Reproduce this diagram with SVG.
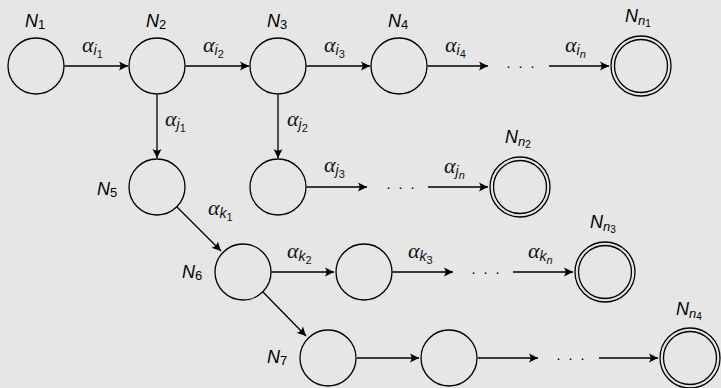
<svg xmlns="http://www.w3.org/2000/svg" width="721" height="388" viewBox="0 0 721 388">
<style>
.st{fill:none;stroke:#000;stroke-width:1.3}
.ed{fill:none;stroke:#000;stroke-width:1.3;marker-end:url(#ah)}
.lab{font-family:"Liberation Sans",Arial,sans-serif;font-size:18px;font-style:italic;fill:#000}
.al{font-family:"Liberation Serif","Times New Roman",serif;font-size:22px;font-style:italic;fill:#111}
.al .s1{font-family:"Liberation Sans",Arial,sans-serif;font-size:14px}
.al .s2{font-family:"Liberation Sans",Arial,sans-serif;font-size:11px}
.s1{font-size:13px}
.s2{font-size:10px;font-style:normal}
.d{font-family:"Liberation Sans",Arial,sans-serif;font-size:15px;fill:#000}
</style>
<defs>
<marker id="ah" markerUnits="userSpaceOnUse" markerWidth="12" markerHeight="12" viewBox="-10 -6 12 12" refX="0" refY="0" orient="auto">
<path d="M0,0 L-9,-4.5 Q-6,0 -9,4.5 Z" fill="#000"/>
</marker>
</defs>
<rect width="721" height="388" fill="#e6e6e6"/>
<g id="connectors">
<line class="ed" x1="64.5" y1="66" x2="128" y2="66"/>
<line class="ed" x1="185.5" y1="66" x2="249" y2="66"/>
<line class="ed" x1="306.5" y1="66" x2="370" y2="66"/>
<line class="ed" x1="427.5" y1="66" x2="488" y2="66"/>
<line class="ed" x1="549" y1="66" x2="609" y2="66"/>
<line class="ed" x1="157" y1="94.5" x2="157" y2="158"/>
<line class="ed" x1="278" y1="94.5" x2="278" y2="158"/>
<line class="ed" x1="306.5" y1="187" x2="367" y2="187"/>
<line class="ed" x1="428" y1="187" x2="488" y2="187"/>
<line class="ed" x1="177" y1="207" x2="221" y2="251"/>
<line class="ed" x1="271.5" y1="272" x2="334" y2="272"/>
<line class="ed" x1="392.5" y1="272" x2="453" y2="272"/>
<line class="ed" x1="513" y1="272" x2="573" y2="272"/>
<line class="ed" x1="263" y1="292" x2="306" y2="336"/>
<line class="ed" x1="357" y1="358" x2="419" y2="358"/>
<line class="ed" x1="478" y1="358" x2="538" y2="358"/>
<line class="ed" x1="599" y1="358" x2="658" y2="358"/>
<text class="d" x="506 518 530" y="71">···</text>
<text class="d" x="386 398 410" y="192">···</text>
<text class="d" x="471 483 495" y="277">···</text>
<text class="d" x="556 568 580" y="363">···</text>
<text class="al" x="82" y="52">α<tspan class="s1" dy="3">i</tspan><tspan class="s2" dy="3">1</tspan></text>
<text class="al" x="203" y="52">α<tspan class="s1" dy="3">i</tspan><tspan class="s2" dy="3">2</tspan></text>
<text class="al" x="324" y="52">α<tspan class="s1" dy="3">i</tspan><tspan class="s2" dy="3">3</tspan></text>
<text class="al" x="445" y="52">α<tspan class="s1" dy="3">i</tspan><tspan class="s2" dy="3">4</tspan></text>
<text class="al" x="565" y="52">α<tspan class="s1" dy="3">i</tspan><tspan class="s2" dy="3" style="font-style:italic">n</tspan></text>
<text class="al" x="165" y="126">α<tspan class="s1" dy="3">j</tspan><tspan class="s2" dy="3">1</tspan></text>
<text class="al" x="287" y="126">α<tspan class="s1" dy="3">j</tspan><tspan class="s2" dy="3">2</tspan></text>
<text class="al" x="324" y="172">α<tspan class="s1" dy="3">j</tspan><tspan class="s2" dy="3">3</tspan></text>
<text class="al" x="444" y="173">α<tspan class="s1" dy="3">j</tspan><tspan class="s2" dy="3" style="font-style:italic">n</tspan></text>
<text class="al" x="208" y="215">α<tspan class="s1" dy="3">k</tspan><tspan class="s2" dy="3">1</tspan></text>
<text class="al" x="287" y="258">α<tspan class="s1" dy="3">k</tspan><tspan class="s2" dy="3">2</tspan></text>
<text class="al" x="408" y="258">α<tspan class="s1" dy="3">k</tspan><tspan class="s2" dy="3">3</tspan></text>
<text class="al" x="528" y="258">α<tspan class="s1" dy="3">k</tspan><tspan class="s2" dy="3" style="font-style:italic">n</tspan></text>
</g>
<g id="N1"><circle class="st" cx="36" cy="66" r="28"/><text class="lab" x="25" y="27">N<tspan class="s1" dy="2" style="font-style:normal">1</tspan></text></g>
<g id="N2"><circle class="st" cx="157" cy="66" r="28"/><text class="lab" x="146" y="27">N<tspan class="s1" dy="2" style="font-style:normal">2</tspan></text></g>
<g id="N3"><circle class="st" cx="278" cy="66" r="28"/><text class="lab" x="267" y="27">N<tspan class="s1" dy="2" style="font-style:normal">3</tspan></text></g>
<g id="N4"><circle class="st" cx="399" cy="66" r="28"/><text class="lab" x="388" y="27">N<tspan class="s1" dy="2" style="font-style:normal">4</tspan></text></g>
<g id="Nn1"><circle class="st" cx="641" cy="66" r="30"/><circle class="st" cx="641" cy="66" r="26.5"/><text class="lab" x="625" y="22">N<tspan class="s1" dy="3">n</tspan><tspan class="s2" dy="2">1</tspan></text></g>
<g id="N5"><circle class="st" cx="157" cy="187" r="28"/><text class="lab" x="97" y="195">N<tspan class="s1" dy="2" style="font-style:normal">5</tspan></text></g>
<g id="Nj"><circle class="st" cx="278" cy="187" r="28"/></g>
<g id="Nn2"><circle class="st" cx="520" cy="187" r="30"/><circle class="st" cx="520" cy="187" r="26.5"/><text class="lab" x="505" y="143">N<tspan class="s1" dy="3">n</tspan><tspan class="s2" dy="2">2</tspan></text></g>
<g id="N6"><circle class="st" cx="243" cy="272" r="28"/><text class="lab" x="182" y="278">N<tspan class="s1" dy="2" style="font-style:normal">6</tspan></text></g>
<g id="Nk"><circle class="st" cx="364" cy="272" r="28"/></g>
<g id="Nn3"><circle class="st" cx="605" cy="272" r="30"/><circle class="st" cx="605" cy="272" r="26.5"/><text class="lab" x="590" y="228">N<tspan class="s1" dy="3">n</tspan><tspan class="s2" dy="2">3</tspan></text></g>
<g id="N7"><circle class="st" cx="328" cy="358" r="28"/><text class="lab" x="267" y="363">N<tspan class="s1" dy="2" style="font-style:normal">7</tspan></text></g>
<g id="Nl"><circle class="st" cx="449" cy="358" r="28"/></g>
<g id="Nn4"><circle class="st" cx="690" cy="358" r="30"/><circle class="st" cx="690" cy="358" r="26.5"/><text class="lab" x="676" y="315">N<tspan class="s1" dy="3">n</tspan><tspan class="s2" dy="2">4</tspan></text></g>
</svg>
